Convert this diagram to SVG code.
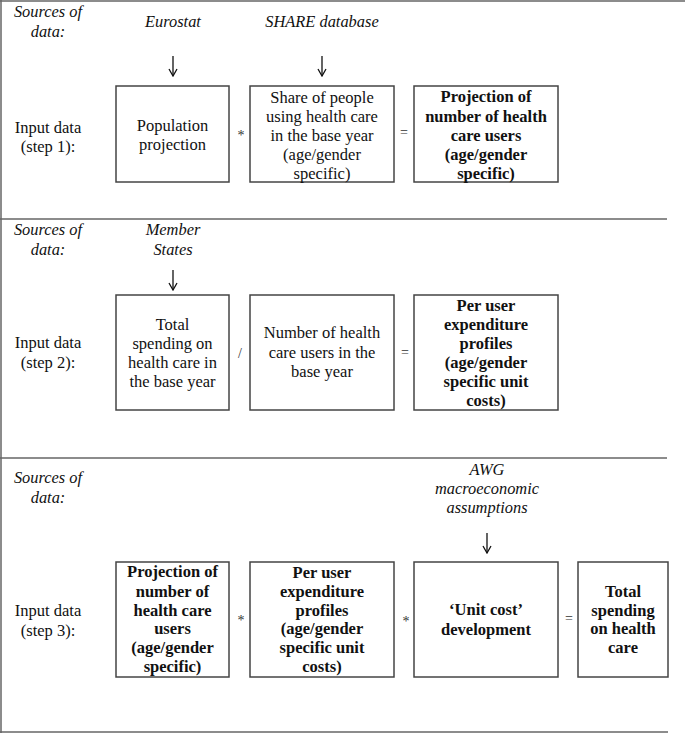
<svg xmlns="http://www.w3.org/2000/svg" width="685" height="733" viewBox="0 0 685 733">
<defs>
<marker id="ah" markerWidth="10" markerHeight="10" refX="9" refY="5" orient="auto" markerUnits="userSpaceOnUse" viewBox="0 0 10 10">
<path d="M2,1 L9,5 L2,9" fill="none" stroke="#111" stroke-width="1.3"/>
</marker>
<style>
.frame{stroke:#666;stroke-width:1.5;fill:none}
.box{fill:#fff;stroke:#444;stroke-width:1.5}
text{font-family:'Liberation Serif','DejaVu Serif',serif;fill:#111;text-anchor:middle}
.t{font-size:16.5px}
.i{font-size:16.4px;font-style:italic}
.b{font-size:16.5px;font-weight:bold}
.op{font-size:14px;fill:#333}
.arr{stroke:#111;stroke-width:1.3;fill:none;marker-end:url(#ah)}
</style>
</defs>
<rect width="685" height="733" fill="#fff"/>
<g id="frame">
<line class="frame" x1="0" y1="1" x2="685" y2="1"/>
<line class="frame" x1="1" y1="0" x2="1" y2="733"/>
<line class="frame" x1="0" y1="219" x2="667" y2="219"/>
<line class="frame" x1="0" y1="458" x2="667" y2="458"/>
<line class="frame" x1="0" y1="732" x2="668" y2="732"/>
</g>
<g id="connectors">
<line class="arr" x1="173" y1="56" x2="173" y2="76"/>
<line class="arr" x1="322" y1="56" x2="322" y2="76"/>
<line class="arr" x1="173" y1="270" x2="173" y2="290"/>
<line class="arr" x1="487" y1="533" x2="487" y2="553"/>
</g>
<g id="s1-labels">
<text class="i" x="48" y="17">Sources of</text>
<text class="i" x="48" y="37">data:</text>
<text class="t" x="48" y="133">Input data</text>
<text class="t" x="48" y="152">(step 1):</text>
</g>
<g id="src-eurostat"><text class="i" x="173" y="27">Eurostat</text></g>
<g id="src-share"><text class="i" x="322" y="27">SHARE database</text></g>
<g id="n-pop">
<rect class="box" x="116" y="86" width="113" height="96"/>
<text class="t" x="172.5" y="131">Population</text>
<text class="t" x="172.5" y="150">projection</text>
</g>
<text class="op" x="241" y="140">*</text>
<g id="n-share">
<rect class="box" x="250" y="86" width="144" height="96"/>
<text class="t" x="322" y="103">Share of people</text>
<text class="t" x="322" y="122">using health care</text>
<text class="t" x="322" y="141">in the base year</text>
<text class="t" x="322" y="160">(age/gender</text>
<text class="t" x="322" y="179">specific)</text>
</g>
<text class="op" x="404" y="137">=</text>
<g id="n-proj1">
<rect class="box" x="414" y="86" width="144" height="96"/>
<text class="b" x="486" y="102">Projection of</text>
<text class="b" x="486" y="122">number of health</text>
<text class="b" x="486" y="141">care users</text>
<text class="b" x="486" y="160">(age/gender</text>
<text class="b" x="486" y="179">specific)</text>
</g>
<g id="s2-labels">
<text class="i" x="48" y="235">Sources of</text>
<text class="i" x="48" y="255">data:</text>
<text class="t" x="48" y="348">Input data</text>
<text class="t" x="48" y="368">(step 2):</text>
</g>
<g id="src-ms">
<text class="i" x="173" y="235">Member</text>
<text class="i" x="173" y="255">States</text>
</g>
<g id="n-totalbase">
<rect class="box" x="116" y="295" width="113" height="115"/>
<text class="t" x="172.5" y="330">Total</text>
<text class="t" x="172.5" y="349">spending on</text>
<text class="t" x="172.5" y="368">health care in</text>
<text class="t" x="172.5" y="387">the base year</text>
</g>
<text class="op" x="240" y="358">/</text>
<g id="n-users">
<rect class="box" x="250" y="295" width="144" height="115"/>
<text class="t" x="322" y="338">Number of health</text>
<text class="t" x="322" y="358">care users in the</text>
<text class="t" x="322" y="377">base year</text>
</g>
<text class="op" x="405" y="357">=</text>
<g id="n-peruser">
<rect class="box" x="414" y="295" width="144" height="115"/>
<text class="b" x="486" y="311">Per user</text>
<text class="b" x="486" y="330">expenditure</text>
<text class="b" x="486" y="349">profiles</text>
<text class="b" x="486" y="368">(age/gender</text>
<text class="b" x="486" y="387">specific unit</text>
<text class="b" x="486" y="406">costs)</text>
</g>
<g id="s3-labels">
<text class="i" x="48" y="483">Sources of</text>
<text class="i" x="48" y="503">data:</text>
<text class="t" x="48" y="616">Input data</text>
<text class="t" x="48" y="636">(step 3):</text>
</g>
<g id="src-awg">
<text class="i" x="487" y="475">AWG</text>
<text class="i" x="487" y="494">macroeconomic</text>
<text class="i" x="487" y="513">assumptions</text>
</g>
<g id="n-proj3">
<rect class="box" x="116" y="562" width="113" height="115"/>
<text class="b" x="172.5" y="577">Projection of</text>
<text class="b" x="172.5" y="597">number of</text>
<text class="b" x="172.5" y="616">health care</text>
<text class="b" x="172.5" y="634">users</text>
<text class="b" x="172.5" y="653">(age/gender</text>
<text class="b" x="172.5" y="672">specific)</text>
</g>
<text class="op" x="241" y="625">*</text>
<g id="n-peruser3">
<rect class="box" x="250" y="562" width="144" height="115"/>
<text class="b" x="322" y="578">Per user</text>
<text class="b" x="322" y="597">expenditure</text>
<text class="b" x="322" y="616">profiles</text>
<text class="b" x="322" y="634">(age/gender</text>
<text class="b" x="322" y="653">specific unit</text>
<text class="b" x="322" y="672">costs)</text>
</g>
<text class="op" x="406" y="626">*</text>
<g id="n-unitcost">
<rect class="box" x="414" y="562" width="144" height="115"/>
<text class="b" x="486" y="615">‘Unit cost’</text>
<text class="b" x="486" y="635">development</text>
</g>
<text class="op" x="569" y="623">=</text>
<g id="n-total">
<rect class="box" x="578" y="562" width="90" height="115"/>
<text class="b" x="623" y="597">Total</text>
<text class="b" x="623" y="616">spending</text>
<text class="b" x="623" y="634">on health</text>
<text class="b" x="623" y="653">care</text>
</g>
</svg>
